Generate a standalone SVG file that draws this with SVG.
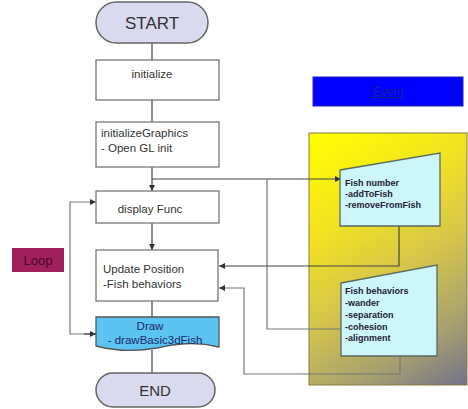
<svg xmlns="http://www.w3.org/2000/svg" width="468" height="409" viewBox="0 0 468 409">
<style>
.box{fill:#fff;stroke:#777;stroke-width:1.3}
.term{fill:#d9d9ef;stroke:#666;stroke-width:1.5}
.t{font-family:"Liberation Sans",Arial,sans-serif;font-size:11.5px;fill:#333}
.ft{font-family:"Liberation Sans",Arial,sans-serif;font-size:9px;font-weight:bold;fill:#223}
.card{fill:#cdf6fb;stroke:#5a6a60;stroke-width:1.3}
.c{fill:none;stroke:#444;stroke-width:1.2}
.g{fill:none;stroke:#777;stroke-width:1.2}
</style>
<defs>
<marker id="a" viewBox="0 0 6 6" refX="6" refY="3" markerWidth="5" markerHeight="5" orient="auto"><path d="M0,0 L6,3 L0,6 z" fill="#333"/></marker>
<linearGradient id="yg" gradientUnits="userSpaceOnUse" x1="309" y1="133" x2="467" y2="385">
<stop offset="0" stop-color="#ffff00"/>
<stop offset="0.3" stop-color="#f2e420"/>
<stop offset="0.55" stop-color="#d6c64a"/>
<stop offset="0.8" stop-color="#a8a070"/>
<stop offset="1" stop-color="#72728a"/>
</linearGradient>
</defs>
<rect x="0" y="0" width="468" height="409" fill="#fff"/>

<g id="event">
<rect x="313" y="77" width="150" height="29" fill="#0000ff" stroke="#2020c0" stroke-width="1"/>
<text x="388" y="96" text-anchor="middle" font-family="Liberation Sans,Arial,sans-serif" font-size="12" fill="#1a1a9a" text-decoration="underline">Event</text>
</g>

<g id="panel">
<rect x="309" y="133" width="158" height="252" fill="url(#yg)" stroke="#8a7a40" stroke-width="1"/>
</g>

<g id="loop">
<rect x="12" y="248" width="52" height="24" fill="#a0205e"/>
<text x="38" y="265" text-anchor="middle" font-family="Liberation Sans,Arial,sans-serif" font-size="13" fill="#4a0a2a">Loop</text>
</g>

<g id="connectors">
<line class="c" x1="152" y1="43" x2="152" y2="60"/>
<line class="c" x1="152" y1="100" x2="152" y2="122"/>
<line class="c" x1="152" y1="167" x2="152" y2="191" marker-end="url(#a)"/>
<line class="c" x1="152" y1="223" x2="152" y2="250" marker-end="url(#a)"/>
<line class="c" x1="152" y1="301" x2="152" y2="317"/>
<line class="c" x1="152" y1="350" x2="152" y2="373"/>
<polyline class="c" points="152,179 341,179" marker-end="url(#a)"/>
<polyline class="g" points="267,179 267,329 341,329"/>
<polyline class="c" points="399,226 399,266 219,266" marker-end="url(#a)"/>
<polyline class="g" points="400,346 400,374 244,374 244,288 219,288" marker-end="url(#a)"/>
<polyline class="g" points="96,334 70,334 70,202 96,202" marker-end="url(#a)"/>
<line class="c" x1="84" y1="334" x2="96" y2="334" marker-end="url(#a)"/>
</g>

<g id="start">
<rect class="term" x="96" y="2" width="112" height="41" rx="20.5"/>
<text x="152" y="29" text-anchor="middle" font-family="Liberation Sans,Arial,sans-serif" font-size="17" fill="#333">START</text>
</g>

<g id="initialize">
<rect class="box" x="96" y="60" width="123" height="40"/>
<text class="t" x="152" y="78" text-anchor="middle">initialize</text>
</g>

<g id="initializeGraphics">
<rect class="box" x="96" y="122" width="123" height="45"/>
<text class="t" x="101" y="137">initializeGraphics</text>
<text class="t" x="101" y="152">- Open GL init</text>
</g>

<g id="displayFunc">
<rect class="box" x="96" y="191" width="123" height="32"/>
<text class="t" x="150" y="213" text-anchor="middle">display Func</text>
</g>

<g id="updatePosition">
<rect class="box" x="96" y="250" width="122" height="51"/>
<text class="t" x="103" y="273">Update Position</text>
<text class="t" x="103" y="288">-Fish behaviors</text>
</g>

<g id="draw">
<path d="M96,317 H219 V347 C195,341 175,344 157,348 C135,352 115,351 96,346 Z" fill="#5cc4f2" stroke="#555" stroke-width="1.3"/>
<text x="150" y="330" text-anchor="middle" font-family="Liberation Sans,Arial,sans-serif" font-size="11.5" fill="#1a2a6a">Draw</text>
<text x="155" y="344" text-anchor="middle" font-family="Liberation Sans,Arial,sans-serif" font-size="11.5" fill="#1a2a6a">- drawBasic3dFish</text>
</g>

<g id="end">
<rect class="term" x="96" y="373" width="119" height="34" rx="17"/>
<text x="155" y="396" text-anchor="middle" font-family="Liberation Sans,Arial,sans-serif" font-size="15" fill="#333">END</text>
</g>

<g id="fishNumber">
<path class="card" d="M340,170 L440,153 L440,226 L340,226 Z"/>
<text class="ft" x="345" y="186">Fish number</text>
<text class="ft" x="345" y="197">-addToFish</text>
<text class="ft" x="345" y="208">-removeFromFish</text>
</g>

<g id="fishBehaviors">
<path class="card" d="M341,283 L437,265 L437,356 L341,356 Z"/>
<text class="ft" x="345" y="294">Fish behaviors</text>
<text class="ft" x="345" y="306">-wander</text>
<text class="ft" x="345" y="318">-separation</text>
<text class="ft" x="345" y="330">-cohesion</text>
<text class="ft" x="345" y="341">-alignment</text>
</g>
</svg>
